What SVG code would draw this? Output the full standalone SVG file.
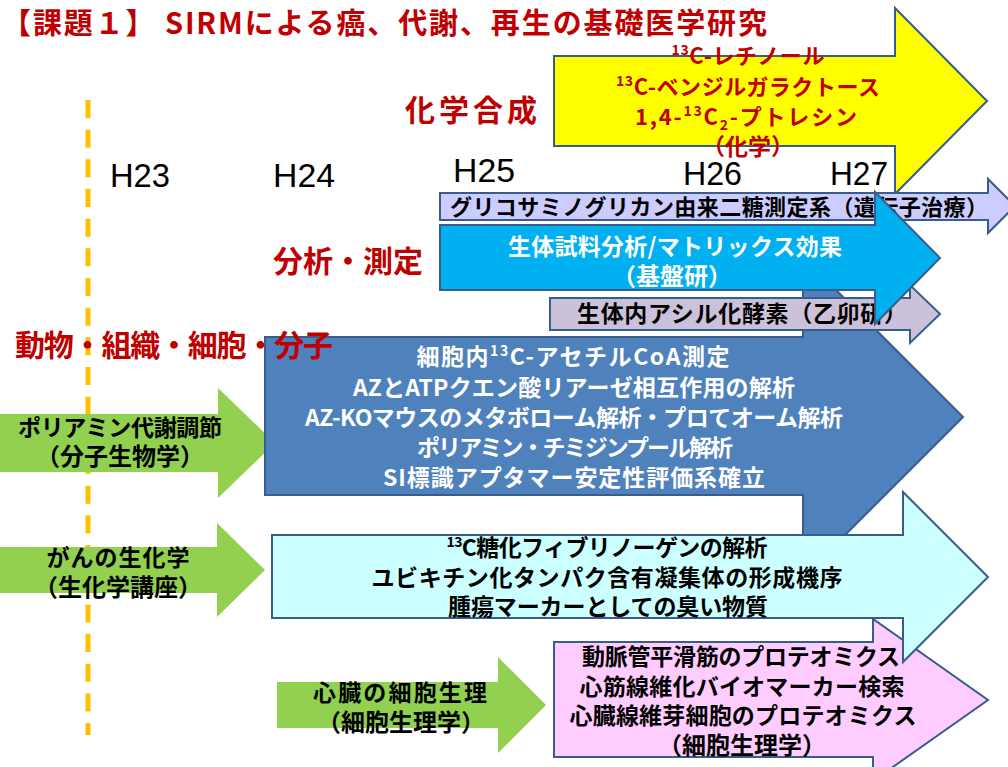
<svg xmlns="http://www.w3.org/2000/svg" width="1008" height="767" viewBox="0 0 1008 767">
<style>
text{font-family:'Noto Sans CJK JP','Noto Sans',sans-serif;font-weight:bold;}
.shape{stroke:#385D8A;stroke-width:2;stroke-linejoin:miter;}
.green{fill:#92D050;stroke:none;}
.t23{font-size:23px;}
.t22{font-size:22px;}
.t24{font-size:24px;}
.mid{text-anchor:middle;}
.red{fill:#C00000;}
.blk{fill:#000;}
.wht{fill:#fff;}
.yr{font-family:'Liberation Sans',Arial,sans-serif;font-weight:normal;font-size:34px;fill:#000;}
.cat{font-size:30px;fill:#C00000;}
.sup{font-size:14px;}
</style>
<rect width="1008" height="767" fill="#fff"/>

<g id="timeline">
<line x1="88" y1="100" x2="88" y2="735" stroke="#FFC000" stroke-width="5" stroke-dasharray="18 11.67"/>
</g>

<g id="connectors"></g>

<g id="green-polyamine">
<polygon class="green" points="0,414 218,414 218,388 275,443 218,498 218,472 0,472"/>
<text class="t23 blk mid" x="120" y="436" textLength="204">ポリアミン代謝調節</text>
<text class="t24 blk mid" x="120" y="465">（分子生物学）</text>
</g>

<g id="green-cancer">
<polygon class="green" points="0,547 217,547 217,523 265,570 217,617 217,593 0,593"/>
<text class="t23 blk mid" x="118" y="566" textLength="143">がんの生化学</text>
<text class="t24 blk mid" x="118" y="596">（生化学講座）</text>
</g>

<g id="green-heart">
<polygon class="green" points="277,682 498,682 498,657 546,705 498,753 498,728 277,728"/>
<text class="t23 blk mid" x="400" y="701" textLength="174">心臓の細胞生理</text>
<text class="t24 blk mid" x="401" y="731">（細胞生理学）</text>
</g>

<g id="yellow-synthesis">
<polygon class="shape" fill="#FFFF00" points="554,56 895,56 895,8 987,101 895,194 895,146 554,146"/>
<text class="t22 red mid" x="748" y="64" textLength="153"><tspan class="sup" dy="-9">13</tspan><tspan dy="9">C-レチノール</tspan></text>
<text class="t22 red mid" x="748" y="95" textLength="264"><tspan class="sup" dy="-9">13</tspan><tspan dy="9">C-ベンジルガラクトース</tspan></text>
<text class="t22 red mid" x="746" y="125" textLength="222">1,4-<tspan class="sup" dy="-9">13</tspan><tspan dy="9">C</tspan><tspan class="sup" dy="5">2</tspan><tspan dy="-5">-プトレシン</tspan></text>
<text class="t23 red mid" x="748" y="155">（化学）</text>
</g>

<g id="blue-molecular">
<polygon class="shape" fill="#4F81BD" points="265,337 803,337 803,257 963,417 803,577 803,495 265,495"/>
<text class="t23 wht mid" x="573" y="365" textLength="313">細胞内<tspan class="sup" dy="-9">13</tspan><tspan dy="9">C-アセチルCoA測定</tspan></text>
<text class="t23 wht mid" x="574" y="396" textLength="442">AZとATPクエン酸リアーゼ相互作用の解析</text>
<text class="t23 wht mid" x="574" y="426" textLength="538">AZ-KOマウスのメタボローム解析・プロてオーム解析</text>
<text class="t23 wht mid" x="575" y="456" textLength="316">ポリアミン・チミジンプール解析</text>
<text class="t23 wht mid" x="574" y="486" textLength="382">SI標識アプタマー安定性評価系確立</text>
</g>

<g id="lavender-glycosaminoglycan">
<polygon class="shape" fill="#CCCCFF" points="440,193 988,193 988,179 1015,206 988,233 988,220 440,220"/>
<text class="t22 blk" x="450" y="215" textLength="538">グリコサミノグリカン由来二糖測定系（遺伝子治療）</text>
</g>

<g id="lavender-acyl">
<polygon class="shape" fill="#CCC1DA" points="550,298 910,298 910,285 940,314 910,343 910,330 550,330"/>
<text class="t23 blk" x="577" y="322" textLength="330">生体内アシル化酵素（乙卯研）</text>
</g>

<g id="cyan-analysis">
<polygon class="shape" fill="#00B0F0" points="440,225 875,225 875,192 940,258 875,324 875,290 440,290"/>
<text class="t23 wht mid" x="675" y="255" textLength="334">生体試料分析/マトリックス効果</text>
<text class="t24 wht mid" x="672" y="285">（基盤研）</text>
</g>

<g id="pink-heart">
<polygon class="shape" fill="#FFCCFF" points="554,642 873,642 873,619 988,700 873,781 873,757 554,757"/>
<text class="t23 blk mid" x="741" y="665" textLength="318">動脈管平滑筋のプロテオミクス</text>
<text class="t23 blk mid" x="742" y="695" textLength="325">心筋線維化バイオマーカー検索</text>
<text class="t23 blk mid" x="743" y="724" textLength="347">心臓線維芽細胞のプロテオミクス</text>
<text class="t24 blk mid" x="742" y="754">（細胞生理学）</text>
</g>

<g id="lightcyan-cancer">
<polygon class="shape" fill="#CCFFFF" points="272,535 903,535 903,492 988,577 903,662 903,618 272,618"/>
<text class="t23 blk mid" x="607" y="556" textLength="321"><tspan class="sup" dy="-9">13</tspan><tspan dy="9">C糖化フィブリノーゲンの解析</tspan></text>
<text class="t23 blk mid" x="607" y="586" textLength="471">ユビキチン化タンパク含有凝集体の形成機序</text>
<text class="t23 blk mid" x="608" y="615" textLength="320">腫瘍マーカーとしての臭い物質</text>
</g>

<g id="labels">
<text class="red" x="2" y="34" font-size="29" textLength="765">【課題１】 SIRMによる癌、代謝、再生の基礎医学研究</text>
<text class="cat" x="405" y="121" textLength="132">化学合成</text>
<text class="cat" x="273" y="272" textLength="150">分析・測定</text>
<text class="cat" x="15" y="356" font-size="29" textLength="318">動物・組織・細胞・分子</text>
<text class="yr" x="110" y="187" textLength="60" lengthAdjust="spacingAndGlyphs">H23</text>
<text class="yr" x="273" y="187" textLength="62" lengthAdjust="spacingAndGlyphs">H24</text>
<text class="yr" x="453" y="182" textLength="62" lengthAdjust="spacingAndGlyphs">H25</text>
<text class="yr" x="683" y="185" textLength="59" lengthAdjust="spacingAndGlyphs">H26</text>
<text class="yr" x="830" y="185" textLength="58" lengthAdjust="spacingAndGlyphs">H27</text>
</g>
</svg>
